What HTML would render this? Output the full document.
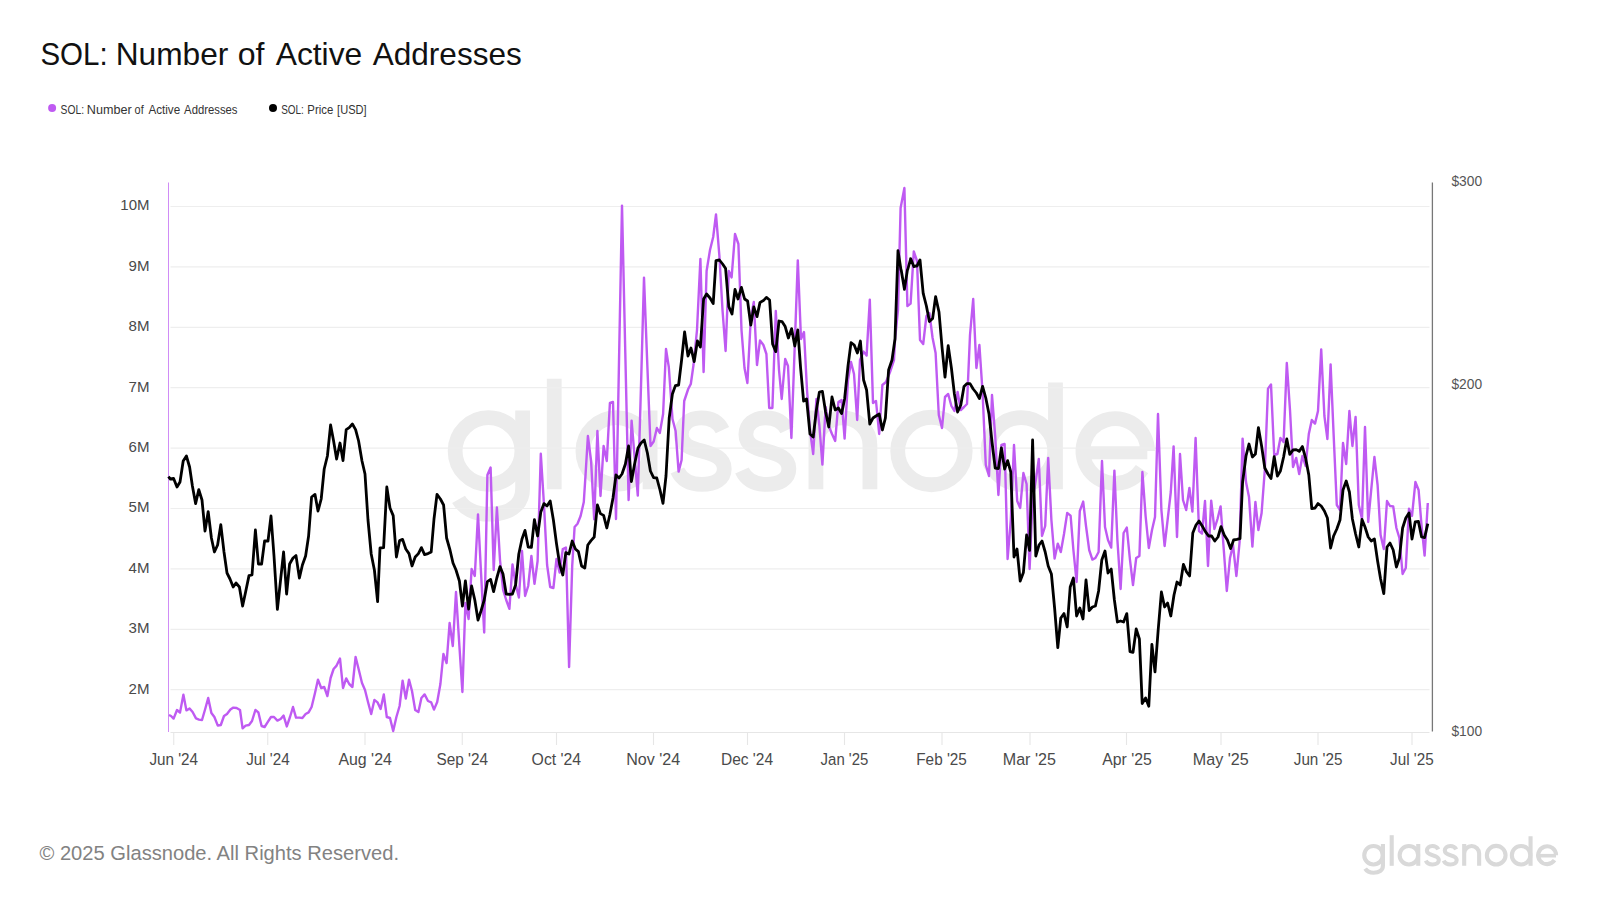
<!DOCTYPE html>
<html><head><meta charset="utf-8"><title>SOL: Number of Active Addresses</title>
<style>html,body{margin:0;padding:0;background:#ffffff;}body{width:1600px;height:900px;position:relative;overflow:hidden;font-family:"Liberation Sans",sans-serif;}</style>
</head><body>
<svg width="1600" height="900" viewBox="0 0 1600 900" style="position:absolute;left:0;top:0">
<g fill="none" stroke-width="4.1" transform="translate(447 490) scale(3.61)" stroke="#ececec">
<circle cx="11.5" cy="-10.8" r="9.25"/><path d="M20.95 -22 V-0.5 C20.95 4.6 16.8 6.7 11.6 6.7 C7.6 6.7 4.6 5.0 3.2 2.6"/>
<path d="M29.7 -30.8 V-0.2"/>
<circle cx="46.9" cy="-10.8" r="9.25"/><path d="M56.25 -22 V-0.2"/>
<path d="M76.3 -16.6 C75.2 -18.9 73 -20 70.4 -20 C67.2 -20 64.9 -18.2 64.9 -15.4 C64.9 -12.4 67.5 -11.6 70.6 -10.8 C74 -9.9 76.8 -8.9 76.8 -5.9 C76.8 -3 74.2 -1.55 70.6 -1.55 C67.4 -1.55 65 -2.8 63.8 -5.4"/><path d="M76.3 -16.6 C75.2 -18.9 73 -20 70.4 -20 C67.2 -20 64.9 -18.2 64.9 -15.4 C64.9 -12.4 67.5 -11.6 70.6 -10.8 C74 -9.9 76.8 -8.9 76.8 -5.9 C76.8 -3 74.2 -1.55 70.6 -1.55 C67.4 -1.55 65 -2.8 63.8 -5.4" transform="translate(17.9 0)"/>
<path d="M102.2 -22 V-0.2 M102.2 -12.5 A7.475 7.5 0 0 1 117.15 -12.5 V-0.2"/>
<circle cx="134.2" cy="-10.8" r="9.35"/>
<circle cx="159.1" cy="-10.8" r="9.25"/><path d="M168.55 -29.75 V-0.2"/>
<path d="M194.05 -10.8 A8.95 8.95 0 1 0 192.52 -5.8"/><path d="M176.6 -10.3 H194" stroke-width="3.6"/>
</g>
<line x1="170.5" x2="1429.5" y1="206.5" y2="206.5" stroke="#eeeeee" stroke-width="1.2"/>
<line x1="170.5" x2="1429.5" y1="266.9" y2="266.9" stroke="#eeeeee" stroke-width="1.2"/>
<line x1="170.5" x2="1429.5" y1="327.3" y2="327.3" stroke="#eeeeee" stroke-width="1.2"/>
<line x1="170.5" x2="1429.5" y1="387.7" y2="387.7" stroke="#eeeeee" stroke-width="1.2"/>
<line x1="170.5" x2="1429.5" y1="448.1" y2="448.1" stroke="#eeeeee" stroke-width="1.2"/>
<line x1="170.5" x2="1429.5" y1="508.5" y2="508.5" stroke="#eeeeee" stroke-width="1.2"/>
<line x1="170.5" x2="1429.5" y1="568.9" y2="568.9" stroke="#eeeeee" stroke-width="1.2"/>
<line x1="170.5" x2="1429.5" y1="629.3" y2="629.3" stroke="#eeeeee" stroke-width="1.2"/>
<line x1="170.5" x2="1429.5" y1="689.7" y2="689.7" stroke="#eeeeee" stroke-width="1.2"/>
<line x1="170.5" x2="1429.5" y1="732.5" y2="732.5" stroke="#e6e6e6" stroke-width="1"/>
<line x1="173.75" x2="173.75" y1="732.5" y2="745" stroke="#e6e6e6" stroke-width="1.1"/>
<line x1="267.75" x2="267.75" y1="732.5" y2="745" stroke="#e6e6e6" stroke-width="1.1"/>
<line x1="365" x2="365" y1="732.5" y2="745" stroke="#e6e6e6" stroke-width="1.1"/>
<line x1="462.25" x2="462.25" y1="732.5" y2="745" stroke="#e6e6e6" stroke-width="1.1"/>
<line x1="556.5" x2="556.5" y1="732.5" y2="745" stroke="#e6e6e6" stroke-width="1.1"/>
<line x1="653.5" x2="653.5" y1="732.5" y2="745" stroke="#e6e6e6" stroke-width="1.1"/>
<line x1="747.5" x2="747.5" y1="732.5" y2="745" stroke="#e6e6e6" stroke-width="1.1"/>
<line x1="844.5" x2="844.5" y1="732.5" y2="745" stroke="#e6e6e6" stroke-width="1.1"/>
<line x1="942" x2="942" y1="732.5" y2="745" stroke="#e6e6e6" stroke-width="1.1"/>
<line x1="1030" x2="1030" y1="732.5" y2="745" stroke="#e6e6e6" stroke-width="1.1"/>
<line x1="1126.5" x2="1126.5" y1="732.5" y2="745" stroke="#e6e6e6" stroke-width="1.1"/>
<line x1="1221" x2="1221" y1="732.5" y2="745" stroke="#e6e6e6" stroke-width="1.1"/>
<line x1="1318" x2="1318" y1="732.5" y2="745" stroke="#e6e6e6" stroke-width="1.1"/>
<line x1="1412" x2="1412" y1="732.5" y2="745" stroke="#e6e6e6" stroke-width="1.1"/>
<line x1="168.5" x2="168.5" y1="182.5" y2="732" stroke="#d08cf6" stroke-width="1"/>
<line x1="1432.4" x2="1432.4" y1="182.5" y2="731.5" stroke="#777777" stroke-width="1.3"/>
<path d="M169.0 715.0 L171.0 716.0 L173.6 718.6 L177.0 710.0 L180.0 712.6 L183.4 694.6 L186.4 710.4 L189.6 708.4 L192.6 712.0 L196.0 718.4 L199.0 719.6 L202.0 720.0 L205.2 709.0 L208.2 698.0 L211.4 713.0 L214.4 717.0 L217.8 725.6 L220.8 725.0 L224.0 716.0 L227.0 714.0 L230.4 709.6 L233.4 707.6 L236.6 708.0 L240.0 710.0 L242.6 728.4 L245.6 725.6 L249.0 725.0 L252.0 721.0 L255.4 710.0 L258.4 712.4 L261.6 726.0 L264.6 727.0 L268.0 721.6 L271.0 717.0 L274.0 717.0 L277.4 720.6 L280.6 719.0 L283.6 715.6 L286.8 726.4 L290.0 717.0 L293.0 707.0 L296.0 717.6 L299.4 717.6 L302.4 718.0 L305.6 714.0 L308.6 712.4 L311.6 707.0 L315.0 693.0 L318.0 679.6 L321.2 688.0 L324.2 687.0 L327.4 696.0 L330.6 678.0 L333.6 669.0 L336.6 665.6 L340.0 658.6 L343.0 688.0 L346.2 678.4 L349.2 684.0 L352.4 687.0 L355.6 657.0 L358.6 669.0 L362.0 683.0 L365.0 690.0 L368.0 702.0 L371.2 714.0 L374.4 700.0 L377.6 702.4 L380.6 709.0 L383.8 694.4 L386.8 717.0 L390.0 718.0 L393.2 731.0 L396.4 717.0 L399.6 706.0 L402.6 680.6 L405.8 698.6 L409.0 679.6 L412.0 691.0 L415.2 710.0 L418.4 712.0 L421.4 698.0 L424.6 694.4 L428.0 701.0 L431.2 702.4 L434.0 709.6 L437.2 702.0 L440.4 684.0 L443.4 654.0 L446.6 663.0 L449.6 623.0 L452.8 646.0 L456.0 592.0 L459.4 646.0 L462.4 692.0 L465.4 603.0 L468.6 619.0 L471.6 569.0 L474.8 576.0 L478.0 514.4 L481.1 574.0 L484.2 632.5 L487.4 475.0 L490.6 467.5 L493.7 570.0 L496.9 507.5 L500.0 560.0 L503.1 590.0 L506.2 600.0 L509.4 608.8 L512.5 564.4 L515.6 584.0 L518.9 597.5 L522.0 551.0 L525.1 596.0 L528.2 586.0 L531.4 556.0 L534.5 583.8 L537.6 561.0 L540.8 453.8 L544.0 505.0 L547.1 565.0 L550.2 587.0 L553.4 588.0 L556.5 559.0 L559.6 572.5 L562.8 549.0 L565.9 547.5 L569.1 667.0 L572.2 566.0 L574.6 527.0 L577.5 523.8 L580.6 516.0 L583.8 502.0 L585.6 473.8 L587.9 436.0 L591.1 461.0 L594.2 519.4 L597.4 431.0 L600.5 496.0 L603.6 446.0 L606.8 461.0 L609.9 403.0 L613.0 402.0 L616.0 519.0 L619.0 362.0 L622.0 205.6 L625.3 353.0 L628.6 500.0 L631.6 420.6 L637.8 495.6 L641.0 386.0 L644.0 277.6 L647.2 362.0 L650.5 446.0 L653.7 441.5 L656.9 428.0 L659.8 433.0 L663.1 414.0 L666.0 349.0 L668.8 367.0 L672.5 419.0 L675.6 431.0 L678.6 471.6 L681.6 460.0 L684.2 401.0 L688.2 389.0 L690.8 384.0 L693.5 365.0 L697.0 330.0 L700.4 259.0 L703.6 372.0 L706.6 271.0 L710.0 250.0 L713.2 237.0 L716.0 214.4 L719.4 256.0 L722.5 310.0 L725.6 351.0 L728.8 271.0 L731.6 277.4 L735.0 234.0 L738.4 244.0 L741.5 330.0 L744.5 368.0 L747.4 383.0 L750.8 318.0 L753.8 302.0 L757.0 365.0 L760.0 340.4 L763.4 345.0 L766.4 354.0 L769.2 408.0 L772.4 408.0 L775.8 311.0 L779.0 370.0 L781.7 399.0 L785.2 359.0 L788.0 366.0 L791.4 438.0 L794.6 350.0 L797.8 260.4 L801.0 339.0 L804.0 332.0 L807.0 390.0 L810.0 430.0 L813.2 454.0 L816.4 399.0 L819.4 426.0 L822.4 464.6 L825.6 407.0 L828.8 426.0 L832.0 434.0 L835.2 441.0 L838.4 402.0 L841.6 400.0 L844.6 438.6 L848.0 380.0 L851.0 362.0 L854.0 374.0 L857.2 420.0 L860.0 360.0 L863.6 351.6 L866.6 355.6 L869.8 299.6 L873.0 403.0 L876.0 401.0 L879.2 434.0 L882.4 385.0 L886.0 382.0 L890.0 372.0 L894.0 360.0 L895.0 340.0 L898.0 310.0 L900.6 208.0 L904.4 188.0 L907.4 306.0 L910.6 303.6 L913.8 251.4 L917.0 261.0 L920.0 340.0 L923.2 344.0 L926.4 316.0 L929.4 313.0 L932.6 338.0 L935.6 353.0 L938.8 415.0 L942.0 428.0 L945.0 397.0 L948.2 394.0 L951.4 406.0 L954.4 411.0 L957.6 392.0 L960.8 410.0 L964.0 407.0 L967.0 404.0 L970.0 335.0 L973.2 299.0 L976.4 368.0 L979.4 345.0 L982.6 393.0 L985.8 465.0 L989.0 476.0 L992.0 395.0 L995.2 436.0 L998.4 495.0 L1001.4 445.0 L1004.6 444.0 L1007.6 559.0 L1010.8 520.0 L1014.0 445.0 L1017.2 501.0 L1020.2 508.0 L1023.4 473.0 L1026.6 484.0 L1029.6 569.0 L1032.6 500.0 L1035.8 480.0 L1038.8 459.0 L1042.0 536.0 L1045.2 526.0 L1048.2 458.0 L1051.4 520.0 L1054.6 558.6 L1057.8 543.6 L1060.8 552.0 L1064.0 534.0 L1067.2 513.0 L1070.6 515.6 L1073.4 550.0 L1076.6 582.0 L1079.8 511.0 L1083.2 501.6 L1086.0 526.0 L1089.2 550.0 L1092.4 559.6 L1095.4 558.0 L1098.6 552.0 L1102.0 461.0 L1105.0 527.0 L1108.0 540.0 L1111.2 547.6 L1114.4 470.6 L1117.4 540.0 L1120.6 589.0 L1123.6 533.0 L1126.8 527.6 L1130.0 560.0 L1133.0 585.0 L1136.2 558.0 L1139.4 556.0 L1142.4 472.0 L1145.6 516.0 L1148.8 548.0 L1152.0 530.0 L1155.0 517.0 L1158.0 414.0 L1161.4 510.0 L1164.6 546.0 L1167.6 520.0 L1170.8 492.0 L1173.6 446.4 L1177.0 537.0 L1180.0 454.0 L1183.0 500.0 L1186.2 510.0 L1189.4 488.0 L1192.4 511.6 L1195.6 438.0 L1199.0 531.0 L1202.0 533.6 L1205.0 501.0 L1208.0 566.0 L1211.2 500.6 L1214.4 529.0 L1217.5 519.0 L1220.6 506.4 L1223.8 550.0 L1226.8 591.0 L1230.0 558.0 L1233.0 545.0 L1236.4 576.0 L1239.6 542.0 L1242.6 438.6 L1246.0 482.0 L1249.0 497.0 L1252.4 546.6 L1255.4 502.0 L1258.4 530.0 L1261.6 513.0 L1264.8 470.0 L1268.0 388.6 L1271.0 384.4 L1274.2 455.0 L1277.4 454.0 L1280.4 438.0 L1283.6 442.0 L1286.8 363.0 L1290.0 410.0 L1293.0 467.0 L1296.2 458.0 L1299.2 474.0 L1302.4 456.0 L1305.6 466.0 L1308.8 434.0 L1311.8 420.0 L1315.0 423.6 L1318.0 411.0 L1321.2 349.4 L1324.4 416.0 L1327.4 439.0 L1330.6 364.4 L1333.6 434.0 L1336.8 505.0 L1340.0 510.0 L1343.0 443.0 L1346.2 464.0 L1349.4 411.0 L1352.4 446.0 L1355.6 417.0 L1358.8 505.0 L1362.0 519.0 L1365.0 427.0 L1368.2 522.0 L1371.2 490.0 L1374.4 457.0 L1377.6 485.0 L1380.6 535.0 L1383.8 549.0 L1387.0 501.0 L1390.0 506.0 L1393.2 506.4 L1396.4 528.0 L1399.4 538.0 L1402.6 574.0 L1405.8 568.0 L1409.0 508.6 L1412.0 516.0 L1415.4 482.0 L1418.6 490.0 L1421.6 526.0 L1424.6 555.6 L1427.8 503.0" fill="none" stroke="#bf5af2" stroke-width="2.4" stroke-linejoin="round" stroke-linecap="butt"/>
<path d="M168.4 476.6 L170.4 479.0 L173.6 478.4 L177.0 487.0 L180.0 482.0 L183.2 461.0 L186.4 456.0 L189.6 467.0 L192.4 486.0 L195.6 503.6 L198.8 489.6 L202.0 500.0 L205.0 531.0 L208.2 511.6 L211.4 538.0 L214.4 552.0 L217.6 545.0 L220.8 524.6 L224.0 552.0 L227.0 573.0 L230.0 579.0 L233.2 587.0 L236.0 583.0 L239.4 587.0 L242.6 606.0 L245.6 592.0 L249.0 575.6 L252.0 575.0 L255.4 530.0 L258.4 564.0 L261.6 564.0 L264.6 541.0 L268.0 541.0 L271.0 516.0 L274.0 556.0 L277.4 609.4 L283.6 552.0 L286.6 594.0 L289.6 564.0 L293.0 558.0 L296.0 555.6 L299.4 578.0 L302.4 565.0 L305.6 556.0 L308.6 536.0 L311.6 497.0 L315.0 494.4 L318.0 511.0 L321.2 499.0 L324.2 469.0 L327.4 456.0 L330.6 425.0 L333.6 441.0 L336.6 459.0 L340.0 443.0 L343.0 460.6 L346.2 429.6 L349.2 427.6 L352.4 424.0 L355.6 429.6 L358.6 441.0 L362.0 461.0 L365.0 474.0 L368.0 520.0 L371.2 554.0 L374.4 570.0 L377.6 601.6 L380.0 548.0 L383.6 547.6 L386.8 487.0 L390.0 508.0 L393.2 515.6 L396.4 557.0 L399.6 540.6 L402.6 539.4 L405.8 549.0 L409.0 553.6 L412.0 566.0 L415.2 557.0 L418.4 553.6 L421.4 547.6 L424.6 554.6 L428.0 553.6 L431.2 552.0 L434.0 519.0 L437.0 494.4 L440.4 499.0 L443.6 505.0 L446.6 538.0 L450.0 550.0 L453.0 563.0 L456.0 570.0 L459.4 581.0 L462.4 606.0 L465.4 581.0 L468.6 609.0 L471.6 586.0 L474.8 600.0 L478.0 620.0 L481.0 611.0 L484.2 600.0 L487.4 581.6 L490.6 579.4 L493.6 591.6 L496.8 578.0 L500.0 566.6 L503.0 574.0 L506.2 594.0 L509.4 594.4 L512.4 594.0 L515.6 585.0 L518.8 554.0 L522.0 539.0 L525.0 530.4 L528.2 547.0 L531.4 547.4 L534.4 519.6 L537.6 536.0 L540.8 512.0 L544.0 503.6 L547.0 506.0 L550.2 501.0 L553.4 520.0 L556.4 543.0 L559.6 564.0 L562.8 575.0 L565.8 552.6 L569.0 554.0 L572.2 541.0 L575.4 549.0 L578.4 551.6 L581.6 566.0 L584.8 568.0 L587.8 545.0 L591.0 540.6 L594.2 537.0 L597.4 505.0 L600.4 513.6 L603.6 515.4 L606.8 528.0 L609.8 515.0 L613.0 498.0 L616.0 475.0 L619.0 478.0 L622.0 474.0 L625.4 464.0 L628.6 446.0 L631.4 481.6 L634.6 464.0 L638.0 448.0 L641.0 443.0 L644.2 440.0 L647.4 453.0 L650.4 471.0 L653.6 477.6 L656.8 478.0 L660.0 490.0 L663.0 503.4 L666.0 476.0 L669.2 418.0 L672.4 394.0 L675.4 385.6 L678.6 385.0 L681.6 360.0 L684.6 332.0 L688.0 356.0 L691.0 348.0 L694.2 361.6 L697.4 341.0 L700.4 347.0 L703.6 299.0 L706.6 294.0 L710.0 298.0 L713.2 303.6 L716.0 260.6 L719.4 260.0 L722.6 264.0 L725.6 268.6 L728.8 306.6 L732.0 314.0 L735.0 289.4 L738.0 299.0 L741.4 287.4 L744.6 299.0 L747.6 301.0 L750.8 325.0 L753.8 307.0 L757.0 316.6 L760.0 302.4 L763.4 300.6 L766.4 297.4 L769.6 300.0 L772.6 344.0 L775.8 351.6 L779.0 321.0 L782.0 321.6 L785.2 326.6 L788.4 338.0 L791.6 328.6 L794.8 346.0 L797.8 330.0 L800.6 368.0 L803.6 401.0 L806.6 399.0 L810.0 434.0 L813.2 437.0 L816.4 410.0 L819.4 392.0 L822.4 391.4 L825.6 412.0 L828.8 427.0 L832.0 397.0 L835.2 410.0 L838.4 408.0 L841.6 413.6 L844.6 399.0 L848.0 366.0 L851.0 342.6 L854.2 345.0 L857.4 353.0 L860.4 341.0 L863.6 380.0 L866.6 390.0 L869.8 424.0 L873.0 418.0 L876.0 416.0 L879.2 414.0 L882.4 430.0 L885.4 418.0 L888.6 370.0 L892.0 360.0 L895.0 339.0 L898.0 250.6 L901.0 270.0 L901.2 270.0 L904.4 289.0 L904.4 289.4 L907.4 270.0 L907.6 270.0 L910.6 259.0 L910.6 258.6 L913.8 266.6 L913.8 266.6 L917.0 265.6 L917.0 266.0 L920.0 260.0 L923.2 293.4 L926.4 306.0 L929.4 321.6 L932.6 318.6 L935.6 296.6 L939.0 312.0 L942.0 347.0 L945.0 377.0 L948.2 345.6 L951.4 368.0 L954.4 394.0 L957.6 412.0 L960.8 405.0 L964.0 386.4 L967.0 383.6 L970.0 383.6 L973.2 389.0 L976.4 393.0 L979.4 398.6 L982.6 386.4 L985.8 398.0 L989.0 414.0 L992.0 442.0 L995.2 468.0 L998.4 468.6 L1001.4 448.0 L1004.6 469.0 L1007.6 460.6 L1010.8 472.0 L1014.0 557.0 L1017.0 549.0 L1020.2 581.0 L1023.4 572.4 L1026.6 535.0 L1029.6 550.4 L1032.6 440.0 L1035.8 556.0 L1039.0 545.0 L1042.0 541.0 L1045.2 552.0 L1048.2 566.0 L1051.4 574.0 L1054.6 608.0 L1057.8 647.6 L1060.8 618.0 L1064.0 613.6 L1067.2 627.0 L1070.2 587.0 L1073.4 578.0 L1076.6 616.0 L1079.8 608.0 L1083.0 619.0 L1086.0 580.0 L1089.2 610.6 L1092.4 607.0 L1095.4 606.0 L1098.6 591.0 L1101.8 560.0 L1105.0 551.0 L1108.0 573.0 L1111.2 569.0 L1114.4 600.0 L1117.4 622.0 L1120.6 621.0 L1123.6 622.0 L1126.8 613.6 L1130.0 651.6 L1133.0 652.4 L1136.2 629.0 L1139.4 639.0 L1142.2 703.5 L1145.6 698.0 L1148.8 706.2 L1151.9 644.4 L1155.0 671.9 L1158.1 631.0 L1161.4 592.0 L1164.6 607.0 L1167.6 603.0 L1170.8 616.0 L1174.0 595.0 L1177.0 582.0 L1180.2 585.0 L1183.4 564.4 L1186.6 572.0 L1189.6 576.0 L1192.8 533.0 L1196.0 525.0 L1199.0 521.0 L1202.2 526.0 L1205.4 531.6 L1208.6 536.0 L1211.6 536.0 L1214.8 541.0 L1218.0 537.0 L1221.0 526.6 L1224.2 535.0 L1227.4 540.0 L1230.6 548.6 L1233.6 540.0 L1236.8 539.4 L1240.0 538.6 L1242.6 482.0 L1246.0 456.0 L1249.0 444.0 L1252.4 457.0 L1255.4 454.0 L1258.4 427.6 L1261.6 446.0 L1264.8 468.0 L1268.0 474.0 L1271.0 478.6 L1274.2 456.6 L1277.4 476.0 L1280.4 471.0 L1283.6 457.0 L1286.8 439.0 L1289.8 454.4 L1293.0 450.0 L1296.2 449.6 L1299.2 451.4 L1302.4 446.6 L1305.6 458.0 L1308.8 475.0 L1311.8 508.6 L1315.0 508.0 L1318.0 503.6 L1321.2 506.0 L1324.4 511.0 L1327.4 518.0 L1330.6 548.0 L1333.6 536.0 L1336.8 529.0 L1340.0 520.0 L1343.0 490.0 L1346.2 481.0 L1349.4 492.0 L1352.4 519.0 L1355.6 534.0 L1358.8 547.0 L1362.0 519.4 L1365.0 527.0 L1368.2 537.0 L1371.2 541.0 L1374.4 539.0 L1377.6 561.0 L1380.6 579.0 L1383.8 593.6 L1387.0 547.0 L1390.0 543.0 L1393.2 550.0 L1396.4 567.0 L1399.4 558.0 L1402.6 528.0 L1405.8 518.0 L1409.0 513.0 L1412.0 539.0 L1415.2 522.0 L1418.4 521.4 L1421.6 537.0 L1424.6 537.6 L1427.8 523.6" fill="none" stroke="#000000" stroke-width="2.8" stroke-linejoin="round" stroke-linecap="butt"/>
<circle cx="52.1" cy="108" r="4" fill="#bf5af2"/>
<circle cx="273" cy="108" r="4" fill="#000000"/>
<text x="149.4" y="764.5" font-family="Liberation Sans, sans-serif" font-size="16.7" fill="#4a4a4a" textLength="48.66" lengthAdjust="spacingAndGlyphs">Jun '24</text>
<text x="246.25" y="764.5" font-family="Liberation Sans, sans-serif" font-size="16.7" fill="#4a4a4a" textLength="43.41" lengthAdjust="spacingAndGlyphs">Jul '24</text>
<text x="338.4" y="764.5" font-family="Liberation Sans, sans-serif" font-size="16.7" fill="#4a4a4a" textLength="53.47" lengthAdjust="spacingAndGlyphs">Aug '24</text>
<text x="436.6" y="764.5" font-family="Liberation Sans, sans-serif" font-size="16.7" fill="#4a4a4a" textLength="51.46" lengthAdjust="spacingAndGlyphs">Sep '24</text>
<text x="531.6" y="764.5" font-family="Liberation Sans, sans-serif" font-size="16.7" fill="#4a4a4a" textLength="49.57" lengthAdjust="spacingAndGlyphs">Oct '24</text>
<text x="626.24" y="764.5" font-family="Liberation Sans, sans-serif" font-size="16.7" fill="#4a4a4a" textLength="54.03" lengthAdjust="spacingAndGlyphs">Nov '24</text>
<text x="720.97" y="764.5" font-family="Liberation Sans, sans-serif" font-size="16.7" fill="#4a4a4a" textLength="52.09" lengthAdjust="spacingAndGlyphs">Dec '24</text>
<text x="820.6" y="764.5" font-family="Liberation Sans, sans-serif" font-size="16.7" fill="#4a4a4a" textLength="47.75" lengthAdjust="spacingAndGlyphs">Jan '25</text>
<text x="916.28" y="764.5" font-family="Liberation Sans, sans-serif" font-size="16.7" fill="#4a4a4a" textLength="50.57" lengthAdjust="spacingAndGlyphs">Feb '25</text>
<text x="1002.79" y="764.5" font-family="Liberation Sans, sans-serif" font-size="16.7" fill="#4a4a4a" textLength="53.08" lengthAdjust="spacingAndGlyphs">Mar '25</text>
<text x="1102.2" y="764.5" font-family="Liberation Sans, sans-serif" font-size="16.7" fill="#4a4a4a" textLength="49.67" lengthAdjust="spacingAndGlyphs">Apr '25</text>
<text x="1192.78" y="764.5" font-family="Liberation Sans, sans-serif" font-size="16.7" fill="#4a4a4a" textLength="55.89" lengthAdjust="spacingAndGlyphs">May '25</text>
<text x="1293.75" y="764.5" font-family="Liberation Sans, sans-serif" font-size="16.7" fill="#4a4a4a" textLength="48.71" lengthAdjust="spacingAndGlyphs">Jun '25</text>
<text x="1390.0" y="764.5" font-family="Liberation Sans, sans-serif" font-size="16.7" fill="#4a4a4a" textLength="43.66" lengthAdjust="spacingAndGlyphs">Jul '25</text>
<text x="120.37" y="210.4" font-family="Liberation Sans, sans-serif" font-size="14.5" fill="#4a4a4a" textLength="29.15" lengthAdjust="spacingAndGlyphs">10M</text>
<text x="128.6" y="270.8" font-family="Liberation Sans, sans-serif" font-size="14.5" fill="#4a4a4a" textLength="20.92" lengthAdjust="spacingAndGlyphs">9M</text>
<text x="128.6" y="331.2" font-family="Liberation Sans, sans-serif" font-size="14.5" fill="#4a4a4a" textLength="20.92" lengthAdjust="spacingAndGlyphs">8M</text>
<text x="128.6" y="391.6" font-family="Liberation Sans, sans-serif" font-size="14.5" fill="#4a4a4a" textLength="20.92" lengthAdjust="spacingAndGlyphs">7M</text>
<text x="128.6" y="452.0" font-family="Liberation Sans, sans-serif" font-size="14.5" fill="#4a4a4a" textLength="20.92" lengthAdjust="spacingAndGlyphs">6M</text>
<text x="128.6" y="512.4" font-family="Liberation Sans, sans-serif" font-size="14.5" fill="#4a4a4a" textLength="20.92" lengthAdjust="spacingAndGlyphs">5M</text>
<text x="128.6" y="572.8" font-family="Liberation Sans, sans-serif" font-size="14.5" fill="#4a4a4a" textLength="20.92" lengthAdjust="spacingAndGlyphs">4M</text>
<text x="128.6" y="633.2" font-family="Liberation Sans, sans-serif" font-size="14.5" fill="#4a4a4a" textLength="20.92" lengthAdjust="spacingAndGlyphs">3M</text>
<text x="128.6" y="693.6" font-family="Liberation Sans, sans-serif" font-size="14.5" fill="#4a4a4a" textLength="20.92" lengthAdjust="spacingAndGlyphs">2M</text>
<text x="1451.4" y="186.4" font-family="Liberation Sans, sans-serif" font-size="14.5" fill="#555555" textLength="30.66" lengthAdjust="spacingAndGlyphs">$300</text>
<text x="1451.4" y="389.4" font-family="Liberation Sans, sans-serif" font-size="14.5" fill="#555555" textLength="30.66" lengthAdjust="spacingAndGlyphs">$200</text>
<text x="1451.4" y="735.9" font-family="Liberation Sans, sans-serif" font-size="14.5" fill="#555555" textLength="30.66" lengthAdjust="spacingAndGlyphs">$100</text>
<text x="40.46" y="64.6" font-family="Liberation Sans, sans-serif" font-size="31.4" fill="#111111" textLength="67.2" lengthAdjust="spacingAndGlyphs">SOL:</text>
<text x="115.68" y="64.6" font-family="Liberation Sans, sans-serif" font-size="31.4" fill="#111111" textLength="112.68" lengthAdjust="spacingAndGlyphs">Number</text>
<text x="237.78" y="64.6" font-family="Liberation Sans, sans-serif" font-size="31.4" fill="#111111" textLength="26.74" lengthAdjust="spacingAndGlyphs">of</text>
<text x="275.7" y="64.6" font-family="Liberation Sans, sans-serif" font-size="31.4" fill="#111111" textLength="86.56" lengthAdjust="spacingAndGlyphs">Active</text>
<text x="372.7" y="64.6" font-family="Liberation Sans, sans-serif" font-size="31.4" fill="#111111" textLength="149.1" lengthAdjust="spacingAndGlyphs">Addresses</text>
<text x="60.6" y="113.6" font-family="Liberation Sans, sans-serif" font-size="12.6" fill="#333333" textLength="23.41" lengthAdjust="spacingAndGlyphs">SOL:</text>
<text x="86.8" y="113.6" font-family="Liberation Sans, sans-serif" font-size="12.6" fill="#333333" textLength="44.79" lengthAdjust="spacingAndGlyphs">Number</text>
<text x="134.6" y="113.6" font-family="Liberation Sans, sans-serif" font-size="12.6" fill="#333333" textLength="9.07" lengthAdjust="spacingAndGlyphs">of</text>
<text x="148.4" y="113.6" font-family="Liberation Sans, sans-serif" font-size="12.6" fill="#333333" textLength="31.8" lengthAdjust="spacingAndGlyphs">Active</text>
<text x="184.1" y="113.6" font-family="Liberation Sans, sans-serif" font-size="12.6" fill="#333333" textLength="53.37" lengthAdjust="spacingAndGlyphs">Addresses</text>
<text x="281.2" y="113.6" font-family="Liberation Sans, sans-serif" font-size="12.6" fill="#333333" textLength="22.69" lengthAdjust="spacingAndGlyphs">SOL:</text>
<text x="307.3" y="113.6" font-family="Liberation Sans, sans-serif" font-size="12.6" fill="#333333" textLength="25.91" lengthAdjust="spacingAndGlyphs">Price</text>
<text x="337.1" y="113.6" font-family="Liberation Sans, sans-serif" font-size="12.6" fill="#333333" textLength="29.54" lengthAdjust="spacingAndGlyphs">[USD]</text>
<text x="39.5" y="860" font-family="Liberation Sans, sans-serif" font-size="20.5" fill="#828282" textLength="359.5" lengthAdjust="spacingAndGlyphs">© 2025 Glassnode. All Rights Reserved.</text>
<g fill="none" stroke-width="4.1" transform="translate(1362 866)" stroke="#d9d9d9">
<circle cx="11.5" cy="-10.8" r="9.25"/><path d="M20.95 -22 V-0.5 C20.95 4.6 16.8 6.7 11.6 6.7 C7.6 6.7 4.6 5.0 3.2 2.6"/>
<path d="M29.7 -30.8 V-0.2"/>
<circle cx="46.9" cy="-10.8" r="9.25"/><path d="M56.25 -22 V-0.2"/>
<path d="M76.3 -16.6 C75.2 -18.9 73 -20 70.4 -20 C67.2 -20 64.9 -18.2 64.9 -15.4 C64.9 -12.4 67.5 -11.6 70.6 -10.8 C74 -9.9 76.8 -8.9 76.8 -5.9 C76.8 -3 74.2 -1.55 70.6 -1.55 C67.4 -1.55 65 -2.8 63.8 -5.4"/><path d="M76.3 -16.6 C75.2 -18.9 73 -20 70.4 -20 C67.2 -20 64.9 -18.2 64.9 -15.4 C64.9 -12.4 67.5 -11.6 70.6 -10.8 C74 -9.9 76.8 -8.9 76.8 -5.9 C76.8 -3 74.2 -1.55 70.6 -1.55 C67.4 -1.55 65 -2.8 63.8 -5.4" transform="translate(17.9 0)"/>
<path d="M102.2 -22 V-0.2 M102.2 -12.5 A7.475 7.5 0 0 1 117.15 -12.5 V-0.2"/>
<circle cx="134.2" cy="-10.8" r="9.35"/>
<circle cx="159.1" cy="-10.8" r="9.25"/><path d="M168.55 -29.75 V-0.2"/>
<path d="M194.05 -10.8 A8.95 8.95 0 1 0 192.52 -5.8"/><path d="M176.6 -10.3 H194" stroke-width="3.6"/>
</g>
</svg>
</body></html>
